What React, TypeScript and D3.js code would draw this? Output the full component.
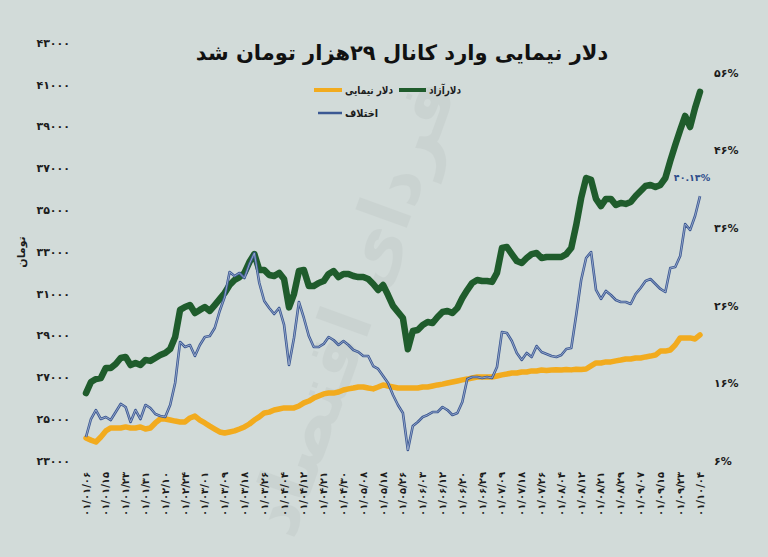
import React from 'react';
import * as d3 from 'd3';

const dateLabels = [
  '01/01/06', '01/01/15', '01/01/23', '01/01/31', '01/02/10', '01/02/24', '01/03/01', '01/03/09',
  '01/03/18', '01/03/26', '01/04/04', '01/04/12', '01/04/21', '01/04/30', '01/05/08', '01/05/18',
  '01/05/26', '01/06/03', '01/06/12', '01/06/20', '01/06/29', '01/07/09', '01/07/18', '01/07/26',
  '01/08/04', '01/08/12', '01/08/21', '01/08/29', '01/09/07', '01/09/15', '01/09/23', '01/10/04',
];

const leftTicks = [23000, 25000, 27000, 29000, 31000, 33000, 35000, 37000, 39000, 41000, 43000];
const rightTicks = [6, 16, 26, 36, 46, 56];

// دلار آزاد (toman)
const freeDollar = [
  26250, 26780, 26920, 26970, 27450, 27450, 27640, 27930, 27980, 27590,
  27690, 27590, 27830, 27790, 27930, 28070, 28170, 28360, 28930, 30230,
  30370, 30460, 30080, 30230, 30370, 30180, 30460, 30750, 31040, 31420,
  31660, 31800, 32000, 32520, 32900, 32140, 32140, 31900, 31850, 32000,
  31710, 30350, 30990, 32090, 32140, 31370, 31370, 31520, 31610, 31950,
  32090, 31800, 31950, 31950, 31850, 31800, 31800, 31710, 31470, 31180,
  31420, 30940, 30420, 30130, 29840, 28350, 29220, 29270, 29510, 29650,
  29600, 29890, 30130, 30180, 30080, 30320, 30800, 31180, 31520, 31660,
  31610, 31610, 31570, 32000, 33190, 33240, 32900, 32570, 32470, 32710,
  32900, 32950, 32710, 32760, 32760, 32760, 32760, 32900, 33190, 34290,
  35580, 36540, 36450, 35540, 35200, 35540, 35540, 35250, 35350, 35300,
  35390, 35680, 35920, 36160, 36210, 36110, 36210, 36540, 37360, 38120,
  38840, 39510, 38980, 39890, 40660,
];

// دلار نیمایی (toman)
const nimaDollar = [
  24100, 24000, 23910, 24150, 24440, 24580, 24580, 24580, 24630, 24580,
  24580, 24630, 24530, 24580, 24820, 25010, 25010, 24960, 24910, 24870,
  24870, 25060, 25150, 24960, 24820, 24670, 24530, 24390, 24340, 24390,
  24440, 24530, 24630, 24770, 24960, 25110, 25300, 25340, 25440, 25490,
  25540, 25540, 25540, 25630, 25780, 25870, 26010, 26110, 26210, 26250,
  26250, 26300, 26400, 26450, 26490, 26540, 26540, 26490, 26450, 26540,
  26640, 26590, 26540, 26490, 26490, 26490, 26490, 26490, 26540, 26540,
  26590, 26640, 26680, 26730, 26780, 26830, 26880, 26920, 26970, 27020,
  27020, 27020, 27020, 27070, 27120, 27160, 27210, 27210, 27260, 27260,
  27310, 27310, 27350, 27330, 27350, 27370, 27350, 27380, 27360, 27390,
  27380, 27400, 27550, 27690, 27690, 27740, 27740, 27790, 27830, 27880,
  27880, 27930, 27930, 27980, 28020, 28070, 28260, 28260, 28310, 28550,
  28890, 28890, 28890, 28840, 29030,
];

// اختلاف (%)
const gapPct = [
  9.09, 11.41, 12.57, 11.41, 11.67, 11.28, 12.31, 13.35, 12.96, 11.03,
  12.57, 11.41, 13.22, 12.83, 12.06, 11.8, 11.67, 13.22, 16.05, 21.34,
  20.69, 20.95, 19.53, 20.95, 21.98, 22.11, 23.14, 25.33, 27.13, 30.36,
  29.84, 30.23, 29.58, 31.39, 32.8, 28.94, 26.62, 25.72, 24.94, 25.72,
  23.53, 18.37, 21.85, 26.49, 24.43, 22.11, 20.69, 20.69, 21.08, 21.98,
  21.59, 20.95, 21.46, 20.95, 20.3, 20.05, 19.53, 19.53, 18.24, 17.86,
  16.95, 16.05, 14.51, 13.22, 12.19, 7.42, 10.51, 11.03, 11.67, 11.93,
  12.31, 12.31, 12.96, 12.57, 11.93, 12.19, 13.6, 16.57, 16.83, 16.83,
  16.7, 16.83, 16.7, 18.11, 22.62, 22.5, 21.46, 19.92, 19.02, 19.92,
  19.4, 20.82, 20.05, 19.79, 19.53, 19.4, 19.66, 20.43, 20.56, 24.82,
  29.33, 32.16, 32.93, 28.04, 26.88, 27.91, 27.39, 26.75, 26.49, 26.49,
  26.23, 27.52, 28.29, 29.2, 29.45, 28.81, 28.17, 27.78, 30.87, 31.0,
  32.42, 36.54, 35.77, 37.57, 40.13,
];

const title = 'دلار نیمایی وارد کانال ۲۹هزار تومان شد';
const lastGapLabel = '۴۰.۱۳%';

const FA = '۰۱۲۳۴۵۶۷۸۹';
const fa = (s: string | number) => String(s).replace(/\d/g, (d) => FA[+d]);

export default function App() {
  const W = 768;
  const H = 557;
  const font = "'DejaVu Sans', sans-serif";
  const n = freeDollar.length;
  const x = d3.scaleLinear().domain([0, n - 1]).range([86, 700]);
  const yL = d3.scaleLinear().domain([23000, 43000]).range([461, 43]);
  const yR = d3.scaleLinear().domain([6, 56]).range([461, 73]);
  const lineL = d3.line<number>().x((_, i) => x(i)).y((d) => yL(d));
  const lineR = d3.line<number>().x((_, i) => x(i)).y((d) => yR(d));
  const labelStep = (n - 1) / (dateLabels.length - 1);

  const green = '#1f5c2c';
  const yellow = '#f2ab1e';
  const blueDark = '#3b5893';
  const blueLight = '#a8b7d4';
  const textCol = '#1c1c1c';

  return (
    <svg width={W} height={H} style={{ position: 'absolute', left: 0, top: 0 }} fontFamily={font}>
      <rect x={0} y={0} width={W} height={H} fill="#d2dbd9" />
      {/* watermark */}
      <text
        transform="translate(375,315) rotate(-70)"
        textAnchor="middle"
        fontSize={72}
        fontWeight="bold"
        fill="#000"
        opacity={0.03}
      >
        فردای اقتصاد
      </text>

      {/* title */}
      <text x={402} y={60} textAnchor="middle" fontSize={21} fontWeight="bold" fill="#111">
        {title}
      </text>

      {/* legend */}
      <line x1={314} x2={342} y1={90} y2={90} stroke={yellow} strokeWidth={4} />
      <text x={345} y={94} fontSize={11} fontWeight="bold" fill={textCol} textLength={48} lengthAdjust="spacingAndGlyphs">دلار نیمایی</text>
      <line x1={399} x2={426} y1={90} y2={90} stroke={green} strokeWidth={4} />
      <text x={429} y={94} fontSize={11} fontWeight="bold" fill={textCol} textLength={32} lengthAdjust="spacingAndGlyphs">دلارآزاد</text>
      <line x1={318} x2={342} y1={113} y2={113} stroke={blueDark} strokeWidth={2.5} />
      <text x={345} y={117} fontSize={11} fontWeight="bold" fill={textCol} textLength={33} lengthAdjust="spacingAndGlyphs">اختلاف</text>

      {/* left axis */}
      {leftTicks.map((t) => (
        <text key={t} x={70} y={yL(t)} dy="0.35em" textAnchor="end" fontSize={11} fontWeight="bold" fill={textCol}>
          {fa(t)}
        </text>
      ))}
      <text transform="translate(25,252) rotate(-90)" textAnchor="middle" fontSize={11} fontWeight="bold" fill={textCol}>
        تومان
      </text>

      {/* right axis */}
      {rightTicks.map((t) => (
        <text key={t} x={714} y={yR(t)} dy="0.35em" textAnchor="start" fontSize={11} fontWeight="bold" fill={textCol}>
          {fa(t) + '%'}
        </text>
      ))}

      {/* x axis labels */}
      {dateLabels.map((d, k) => (
        <text
          key={d}
          transform={`translate(${x(k * labelStep) + 3.5},472) rotate(-90)`}
          textAnchor="end"
          fontSize={10}
          fontWeight="bold"
          fill={textCol}
        >
          {fa(d)}
        </text>
      ))}

      {/* series */}
      <path d={lineL(nimaDollar) || ''} fill="none" stroke={yellow} strokeWidth={5.5} strokeLinejoin="round" strokeLinecap="round" />
      <path d={lineL(freeDollar) || ''} fill="none" stroke={green} strokeWidth={6.5} strokeLinejoin="round" strokeLinecap="round" />
      <path d={lineR(gapPct) || ''} fill="none" stroke={blueDark} strokeWidth={2.6} strokeLinejoin="round" />
      <path d={lineR(gapPct) || ''} fill="none" stroke={blueLight} strokeWidth={0.8} strokeLinejoin="round" />

      <text x={x(n - 1) - 8} y={yR(gapPct[n - 1]) - 15} textAnchor="middle" fontSize={9.5} fontWeight="bold" fill="#2d4c8a">
        {lastGapLabel}
      </text>
    </svg>
  );
}
